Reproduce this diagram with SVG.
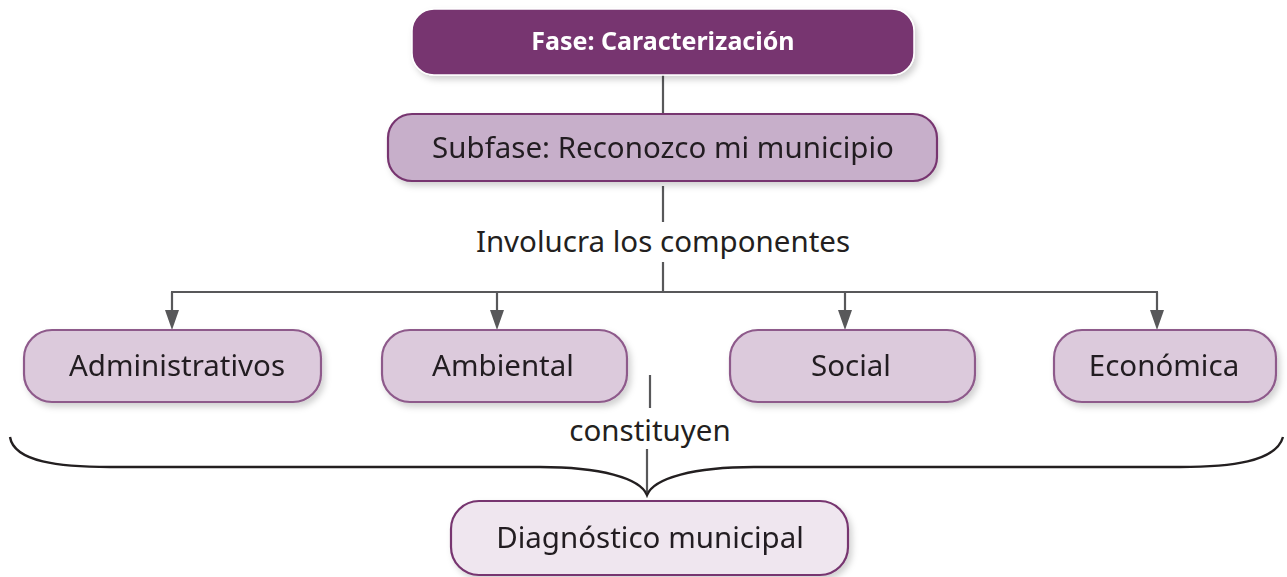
<svg xmlns="http://www.w3.org/2000/svg" width="1287" height="577" viewBox="0 0 1287 577">
<defs>
<style>
.t{font-family:"Noto Sans","Open Sans","Liberation Sans",sans-serif;font-size:29.5px;fill:#231f20;text-anchor:middle}
.conn{stroke:#58585a;stroke-width:2.2;fill:none}
.head{fill:#58585a}
.box{stroke:#8e5a8b;stroke-width:2.2}
</style>
<filter id="sh" x="-10%" y="-20%" width="130%" height="160%">
<feDropShadow dx="3" dy="4" stdDeviation="3" flood-color="#000" flood-opacity="0.18"/>
</filter>
</defs>
<g id="connectors">
<line class="conn" x1="663" y1="75" x2="663" y2="113"/>
<line class="conn" x1="663" y1="186" x2="663" y2="222"/>
<line class="conn" x1="663" y1="262" x2="663" y2="292"/>
<line class="conn" x1="171" y1="292" x2="1158" y2="292"/>
<line class="conn" x1="172" y1="292" x2="172" y2="311"/>
<line class="conn" x1="497" y1="292" x2="497" y2="311"/>
<line class="conn" x1="845" y1="292" x2="845" y2="311"/>
<line class="conn" x1="1157" y1="292" x2="1157" y2="311"/>
<path class="head" d="M165,310 H179 L172,330 Z"/>
<path class="head" d="M490,310 H504 L497,330 Z"/>
<path class="head" d="M838,310 H852 L845,330 Z"/>
<path class="head" d="M1150,310 H1164 L1157,330 Z"/>
<line class="conn" x1="650" y1="375" x2="650" y2="408"/>
<line class="conn" x1="647" y1="449" x2="647" y2="492"/>
<path d="M10,437 C14,462 60,467 110,467 L540,467 C600,467 640,478 647,495 C654,478 694,467 754,467 L1180,467 C1230,467 1276,462 1283,437" fill="none" stroke="#231f20" stroke-width="2.4"/>
</g>
<g id="fase" filter="url(#sh)">
<rect x="412" y="9" width="502" height="66" rx="22" fill="#773670" stroke="#fff" stroke-width="1.5"/>
<text x="663" y="50" class="t" style="fill:#fff;font-weight:bold;font-size:25px">Fase: Caracterización</text>
</g>
<g id="subfase" filter="url(#sh)">
<rect x="388" y="114" width="549" height="67" rx="24" fill="#c7afca" stroke="#773670" stroke-width="2.2"/>
<text x="663" y="158" class="t">Subfase: Reconozco mi municipio</text>
</g>
<g id="label-involucra">
<text x="663" y="252" class="t">Involucra los componentes</text>
</g>
<g id="administrativos" filter="url(#sh)">
<rect class="box" x="24" y="330" width="297" height="72" rx="28" fill="#dccadc"/>
<text x="177" y="376" class="t">Administrativos</text>
</g>
<g id="ambiental" filter="url(#sh)">
<rect class="box" x="382" y="330" width="245" height="72" rx="28" fill="#dccadc"/>
<text x="503" y="376" class="t">Ambiental</text>
</g>
<g id="social" filter="url(#sh)">
<rect class="box" x="730" y="330" width="245" height="72" rx="28" fill="#dccadc"/>
<text x="851" y="376" class="t">Social</text>
</g>
<g id="economica" filter="url(#sh)">
<rect class="box" x="1054" y="330" width="222" height="72" rx="28" fill="#dccadc"/>
<text x="1164" y="376" class="t">Económica</text>
</g>
<g id="label-constituyen">
<text x="650" y="441" class="t">constituyen</text>
</g>
<g id="diagnostico" filter="url(#sh)">
<rect x="451" y="501" width="397" height="74" rx="28" fill="#efe6ef" stroke="#773670" stroke-width="2.2"/>
<text x="650" y="548" class="t">Diagnóstico municipal</text>
</g>
</svg>
